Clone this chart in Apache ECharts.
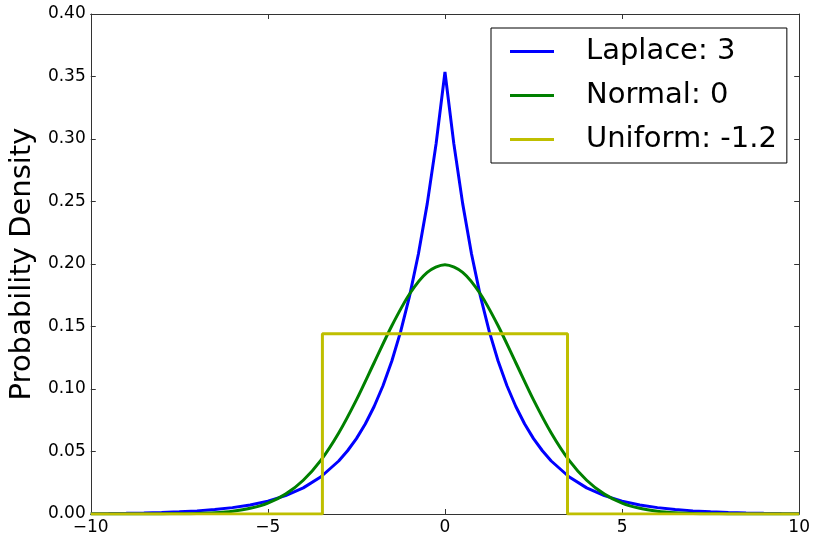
<!DOCTYPE html>
<html>
<head>
<meta charset="utf-8">
<script src="https://cdn.jsdelivr.net/npm/echarts@6/dist/echarts.min.js"></script>
<style>html,body{margin:0;padding:0;background:#fff}#c{width:813px;height:538px}</style>
</head>
<body>
<div id="c"></div>
<script>
// Data
var seriesNames = ['Laplace: 3', 'Normal: 0', 'Uniform: -1.2'];
var xTicks = [-10, -5, 0, 5, 10];
var yTicks = [0, 0.05, 0.10, 0.15, 0.20, 0.25, 0.30, 0.35, 0.40];

var laplaceX = [-10,-9.5,-9,-8.5,-8,-7.5,-7,-6.5,-6,-5.5,-5,-4.5,-4,-3.5,-3,-2.75,-2.5,-2.25,-2,-1.75,-1.5,-1.25,-1,-0.75,-0.5,-0.25,0,0.25,0.5,0.75,1,1.25,1.5,1.75,2,2.25,2.5,2.75,3,3.5,4,4.5,5,5.5,6,6.5,7,7.5,8,8.5,9,9.5,10];
var laplaceY = [0.0003,0.00043,0.00061,0.00087,0.00123,0.00176,0.0025,0.0036,0.0051,0.0072,0.0103,0.0147,0.0209,0.0298,0.0424,0.0506,0.0603,0.0720,0.0860,0.1026,0.1224,0.1461,0.1743,0.2080,0.2483,0.2963,0.3536,0.2963,0.2483,0.2080,0.1743,0.1461,0.1224,0.1026,0.0860,0.0720,0.0603,0.0506,0.0424,0.0298,0.0209,0.0147,0.0103,0.0072,0.0051,0.0036,0.0025,0.00176,0.00123,0.00087,0.00061,0.00043,0.0003];

var normalX = [-10,-9.5,-9,-8.5,-8,-7.5,-7,-6.5,-6,-5.5,-5,-4.5,-4,-3.5,-3,-2.5,-2,-1.5,-1,-0.5,0,0.5,1,1.5,2,2.5,3,3.5,4,4.5,5,5.5,6,6.5,7,7.5,8,8.5,9,9.5,10];
var normalY = [0,0,0.00001,0.00003,0.00007,0.00018,0.00044,0.00102,0.00222,0.00455,0.00876,0.0159,0.0270,0.0431,0.0648,0.0913,0.1210,0.1506,0.1760,0.1933,0.1995,0.1933,0.1760,0.1506,0.1210,0.0913,0.0648,0.0431,0.0270,0.0159,0.00876,0.00455,0.00222,0.00102,0.00044,0.00018,0.00007,0.00003,0.00001,0,0];

var uniformX = [-10,-3.46,-3.46,3.46,3.46,10];
var uniformY = [0,0,0.1443,0.1443,0,0];

function pairs(xs, ys){ return xs.map(function(x,i){ return [x, ys[i]]; }); }

var FONT = 'DejaVu Sans';
var frame = {show:true, onZero:false, lineStyle:{color:'#333', width:1}};
var tick = {show:true, inside:true, length:5, lineStyle:{color:'#333', width:1}};

var chart = echarts.init(document.getElementById('c'), null, {renderer:'canvas'});
chart.setOption({
  animation:false,
  backgroundColor:'#fff',
  grid:{left:89, right:13, top:14, bottom:24, containLabel:false},
  legend:{
    data:seriesNames,
    orient:'vertical',
    left:491, top:28,
    padding:[7,10,7,19],
    borderColor:'#000', borderWidth:1, backgroundColor:'#fff',
    icon:'rect', itemWidth:44, itemHeight:3, itemGap:11,
    textStyle:{fontFamily:FONT, fontSize:29, lineHeight:33, color:'#000', padding:[0,0,0,27]}
  },
  xAxis:[
    {type:'value', min:-10, max:10, interval:5, position:'bottom',
     axisLine:frame, axisTick:tick, splitLine:{show:false},
     axisLabel:{fontFamily:FONT, fontSize:17, color:'#000', margin:5,
       formatter:function(v){ return xTicks.indexOf(v) >= 0 ? String(v).replace('-', '\u2212') : ''; }}},
    {type:'value', min:-10, max:10, interval:5, position:'top',
     axisLine:frame, axisTick:tick, splitLine:{show:false}, axisLabel:{show:false}}
  ],
  yAxis:[
    {type:'value', min:0, max:0.4, interval:0.05, position:'left',
     name:'Probability Density', nameLocation:'middle', nameGap:43,
     nameTextStyle:{fontFamily:FONT, fontSize:29, color:'#000'},
     axisLine:frame, axisTick:tick, splitLine:{show:false},
     axisLabel:{fontFamily:FONT, fontSize:17, color:'#000', margin:5,
       formatter:function(v){ return v.toFixed(2); }}},
    {type:'value', min:0, max:0.4, interval:0.05, position:'right',
     axisLine:frame, axisTick:tick, splitLine:{show:false}, axisLabel:{show:false}}
  ],
  series:[
    {name:seriesNames[0], type:'line', data:pairs(laplaceX, laplaceY), showSymbol:false, symbol:'none',
     color:'#0000ff', lineStyle:{color:'#0000ff', width:3}, z:3},
    {name:seriesNames[1], type:'line', data:pairs(normalX, normalY), showSymbol:false, symbol:'none', smooth:0.3,
     color:'#008000', lineStyle:{color:'#008000', width:3}, z:4},
    {name:seriesNames[2], type:'line', data:pairs(uniformX, uniformY), showSymbol:false, symbol:'none',
     color:'#bfbf00', lineStyle:{color:'#bfbf00', width:3}, z:5}
  ]
});
</script>
</body>
</html>
